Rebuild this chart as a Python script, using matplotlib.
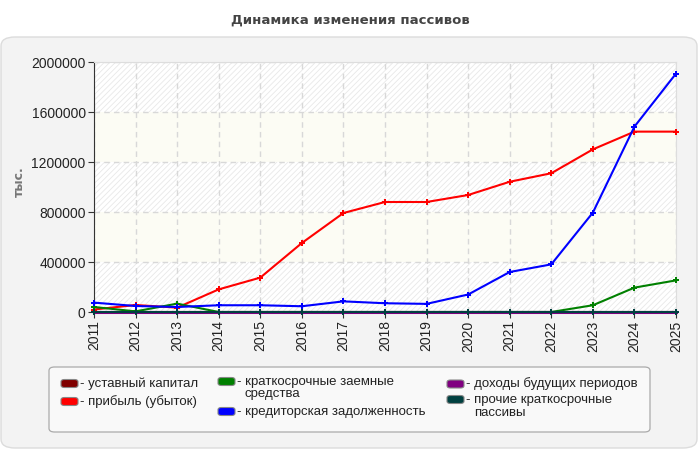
import matplotlib
matplotlib.use("Agg")
import matplotlib.pyplot as plt
from matplotlib.patches import FancyBboxPatch, Rectangle

years = list(range(2011, 2026))
ustavny = [0] * 15
pribyl = [20000, 56000, 35000, 181000, 275000, 552000, 792000, 880000, 880000,
          936000, 1042000, 1110000, 1301000, 1443000, 1443000]
kratk_zaem = [40000, 5000, 67000, 0, 0, 0, 0, 0, 0, 0, 0, 0, 54000, 195000, 253000]
kreditor = [75000, 48000, 40000, 54000, 54000, 46000, 85000, 70000, 65000,
            140000, 320000, 381000, 795000, 1483000, 1907000]
dohody = [0] * 15
prochie = [0] * 15

labels = ["уставный капитал", "прибыль (убыток)", "краткосрочные заемные\nсредства",
          "кредиторская задолженность", "доходы будущих периодов",
          "прочие краткосрочные\nпассивы"]
values = [ustavny, pribyl, kratk_zaem, kreditor, dohody, prochie]
colors = ["#800000", "#ff0000", "#008000", "#0000ff", "#800080", "#004040"]
yticks = [0, 400000, 800000, 1200000, 1600000, 2000000]

W, H = 700, 450
plt.rcParams['font.family'] = ['Liberation Sans', 'DejaVu Sans']
plt.rcParams['hatch.linewidth'] = 0.6
fig = plt.figure(figsize=(7, 4.5), dpi=100)
fig.patch.set_facecolor("white")


def fx(px):
    return px / W


def fy(py):
    return 1 - py / H


# outer panel
panel = FancyBboxPatch((fx(1), fy(448)), fx(697) - fx(1), fy(37) - fy(448),
                       boxstyle="round,pad=0,rounding_size=0.02",
                       transform=fig.transFigure, facecolor="#f3f3f3", edgecolor="#dcdcdc",
                       linewidth=1.0, zorder=-10)
fig.patches.append(panel)

fig.text(0.5, fy(20), "Динамика изменения пассивов", ha="center", va="center",
         fontsize=9.5, fontweight="bold", color="#444444", family="DejaVu Sans")

ax = fig.add_axes([fx(94), fy(312), fx(676) - fx(94), fy(62) - fy(312)])
ax.set_facecolor("white")
ax.set_xlim(years[0], years[-1])
ax.set_ylim(0, 2000000)

# background bands
for i in range(len(yticks) - 1):
    lo, hi = yticks[i], yticks[i + 1]
    if i % 2 == 0:
        r = Rectangle((years[0], lo), years[-1] - years[0], hi - lo, facecolor="white",
                      edgecolor="#e8e8e8", hatch="//////", linewidth=0, zorder=0)
    else:
        r = Rectangle((years[0], lo), years[-1] - years[0], hi - lo, facecolor="#fcfcf4",
                      edgecolor="none", linewidth=0, zorder=0)
    ax.add_patch(r)

ax.grid(True, color="#d8d8d8", linestyle=(0, (4, 3)), linewidth=1)
ax.set_axisbelow(True)

lws = [1.5, 1.5, 1.5, 1.5, 2.2, 1.5]
for vals, color, lw in zip(values, colors, lws):
    ax.plot(years, vals, color=color, linewidth=lw, marker="P", markersize=4,
            markeredgewidth=0, clip_on=False, zorder=3)

ax.set_xticks(years)
ax.set_xticklabels([str(y) for y in years], rotation=90, fontsize=10, color="#222222")
ax.set_yticks(yticks)
ax.set_yticklabels([str(v) for v in yticks], fontsize=10, color="#222222")
ax.tick_params(axis="both", length=4, color="#333333", pad=2)
for s in ["top", "right"]:
    ax.spines[s].set_color("#dddddd")
for s in ["left", "bottom"]:
    ax.spines[s].set_color("#333333")
fig.text(fx(19), fy(182), "тыс.", rotation=90, ha="center", va="center",
         fontsize=9, fontweight="bold", color="#777777", family="DejaVu Sans")

# legend (manual)
lbox = FancyBboxPatch((fx(49), fy(432)), fx(650) - fx(49), fy(367) - fy(432),
                      boxstyle="round,pad=0,rounding_size=0.008",
                      transform=fig.transFigure, facecolor="#f9f9f9", edgecolor="#aaaaaa",
                      linewidth=0.9, zorder=1)
fig.patches.append(lbox)

# (swatch_x, swatch_center_y, text_x, first line y)
slots = [(61, 383.5, 80, 383.5), (61, 401.5, 80, 401.5),
         (218, 381.5, 237, 381.5), (218, 411.5, 237, 411.5),
         (447, 384, 466, 384), (447, 399.5, 466, 399.5)]
for (sx, sy, tx, ty), lab, col in zip(slots, labels, colors):
    sw = FancyBboxPatch((fx(sx), fy(sy + 4)), fx(17), 8 / H,
                        boxstyle="round,pad=0,rounding_size=0.005",
                        transform=fig.transFigure, facecolor=col, edgecolor="#888888",
                        linewidth=0.8, zorder=2)
    fig.patches.append(sw)
    lines = lab.split("\n")
    fig.text(fx(tx), fy(ty), "- " + lines[0], ha="left", va="center",
             fontsize=9.5, color="#222222")
    for k, extra in enumerate(lines[1:], start=1):
        fig.text(fx(tx + 8), fy(ty + 13 * k), extra, ha="left", va="center",
                 fontsize=9.5, color="#222222")

fig.savefig("out.png", dpi=100, facecolor="white")
